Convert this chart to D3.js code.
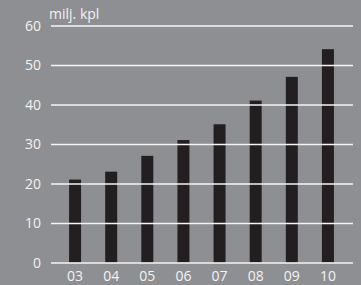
<!DOCTYPE html>
<html>
<head>
<meta charset="utf-8">
<script src="https://cdn.jsdelivr.net/npm/d3@7"></script>
<style>
  html, body { margin: 0; padding: 0; background: #8e8f92; }
  svg { display: block; }
  text { font-family: "Open Sans", sans-serif; fill: #f2f2f2; }
</style>
</head>
<body>
<div id="chart"></div>
<script>
const years = ['03', '04', '05', '06', '07', '08', '09', '10'];
const values = [21, 23, 27, 31, 35, 41, 47, 54];
const yTicks = [0, 10, 20, 30, 40, 50, 60];
const unitLabel = 'milj. kpl';

const width = 361;
const height = 285;

const svg = d3.select('#chart')
  .append('svg')
  .attr('width', width)
  .attr('height', height);

svg.append('rect')
  .attr('width', width)
  .attr('height', height)
  .attr('fill', '#8e8f92');

const xScale = d3.scaleBand()
  .domain(years)
  .range([57, 346])
  .paddingInner(0.668)
  .paddingOuter(0.334);

const yScale = d3.scaleLinear().domain([0, 60]).range([262.5, 25.5]);

// bars
svg.append('g')
  .selectAll('rect')
  .data(values)
  .join('rect')
  .attr('x', (d, i) => xScale(years[i]))
  .attr('y', d => yScale(d))
  .attr('width', xScale.bandwidth())
  .attr('height', d => yScale(0) - yScale(d))
  .attr('fill', '#231f20');

// gridlines on top of bars
const grid = svg.append('g')
  .attr('transform', 'translate(51, 0)')
  .call(d3.axisLeft(yScale).tickValues(yTicks).tickSize(-302).tickFormat(''));
grid.select('.domain').remove();
grid.selectAll('line').attr('stroke', '#f4f4f4').attr('stroke-width', 1.5);

// y labels
svg.append('g')
  .selectAll('text')
  .data(yTicks)
  .join('text')
  .attr('x', 41)
  .attr('y', d => yScale(d) + 5)
  .attr('text-anchor', 'end')
  .attr('font-size', 14)
  .text(d => d);

// x labels
svg.append('g')
  .selectAll('text')
  .data(years)
  .join('text')
  .attr('x', d => xScale(d) + xScale.bandwidth() / 2)
  .attr('y', 281)
  .attr('text-anchor', 'middle')
  .attr('font-size', 14)
  .text(d => d);

svg.append('text')
  .attr('x', 49)
  .attr('y', 19)
  .attr('font-size', 14)
  .text(unitLabel);
</script>
</body>
</html>
